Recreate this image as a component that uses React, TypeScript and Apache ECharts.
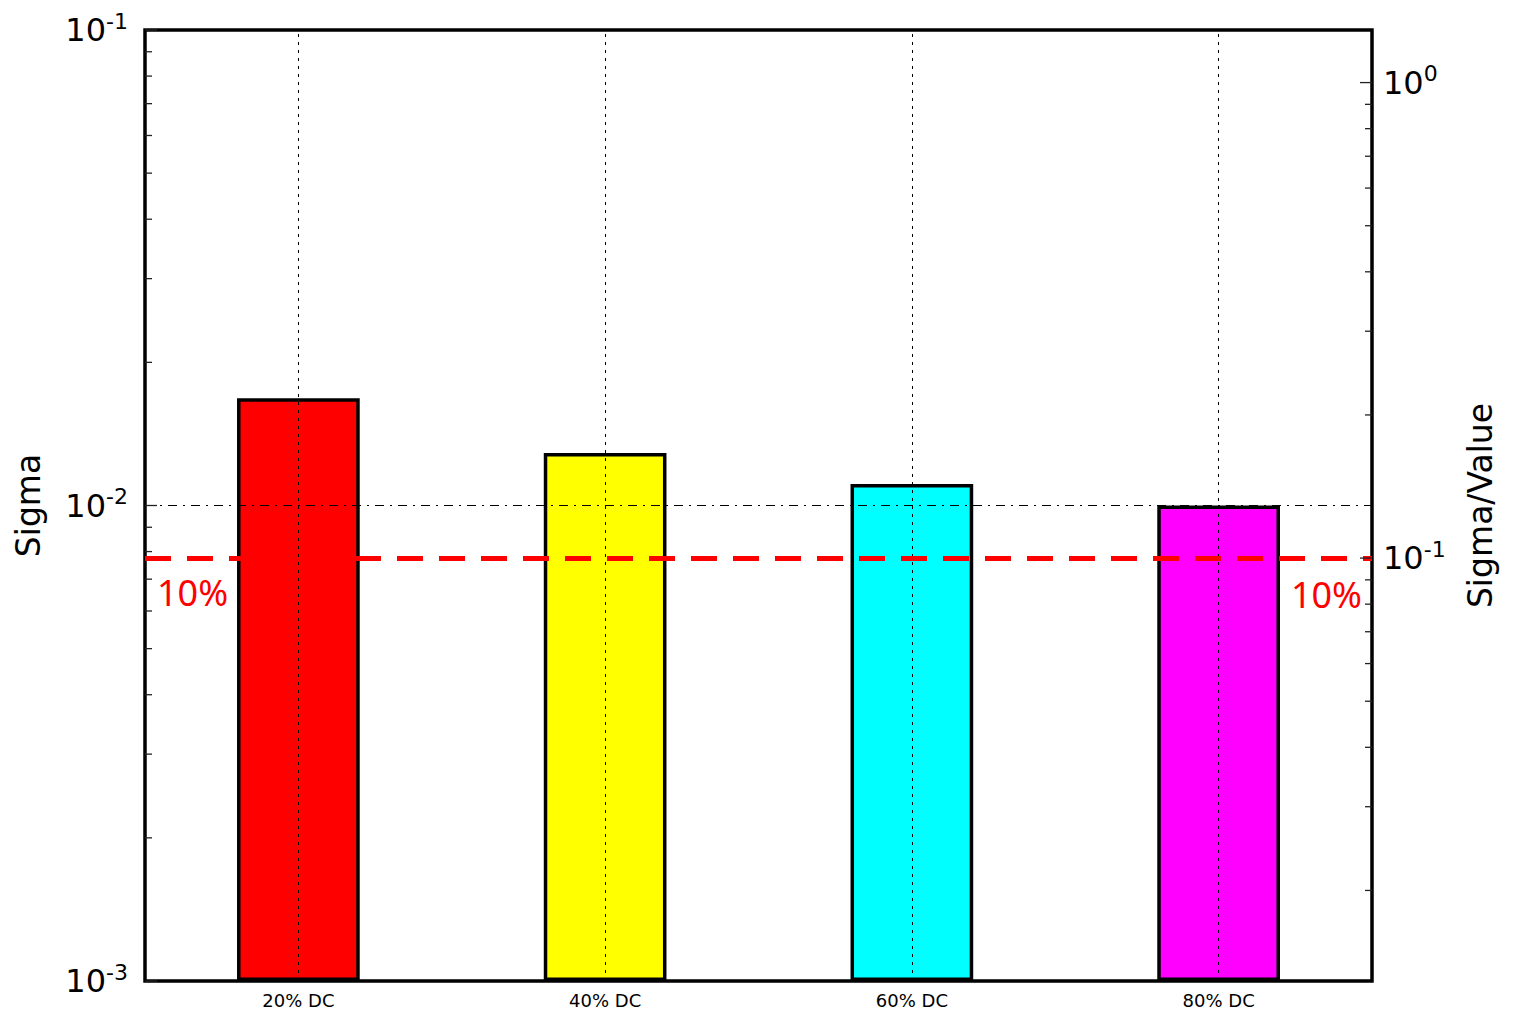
import React, { useEffect, useRef } from "react";
import * as echarts from "echarts";

// Duty-cycle categories and the measured sigma for each
const categories = ["20% DC", "40% DC", "60% DC", "80% DC"];
const sigmaValues = [0.0168, 0.0129, 0.0111, 0.01];
const barColors = ["#ff0000", "#ffff00", "#00ffff", "#ff00ff"];

// Axis ranges (left: sigma, right: sigma / value)
const sigmaRange = [0.001, 0.1];
const ratioRange = [0.0129, 1.29];

// Threshold on the sigma/value axis
const thresholdRatio = 0.1;
const thresholdLabel = "10%";

// Tick marks for both logarithmic axes (decades plus 2..9 minors)
const sigmaTicks = [
  0.001, 0.002, 0.003, 0.004, 0.005, 0.006, 0.007, 0.008, 0.009,
  0.01, 0.02, 0.03, 0.04, 0.05, 0.06, 0.07, 0.08, 0.09, 0.1,
];
const ratioTicks = [
  0.02, 0.03, 0.04, 0.05, 0.06, 0.07, 0.08, 0.09,
  0.1, 0.2, 0.3, 0.4, 0.5, 0.6, 0.7, 0.8, 0.9, 1,
];

const FONT = "DejaVu Sans";

const powerLabel = (v: number) => {
  const e = Math.log10(v);
  const r = Math.round(e);
  if (Math.abs(e - r) > 1e-6) return "";
  return `{b|10}{s|${r}}`;
};

const powerRich = {
  b: { fontSize: 32, fontFamily: FONT, color: "#000", lineHeight: 40 },
  s: { fontSize: 22, fontFamily: FONT, color: "#000", verticalAlign: "top" as const },
};

const tickRenderer =
  (side: "left" | "right") => (params: any, api: any) => {
    const v = api.value(1);
    const y = api.coord([0, v])[1];
    const cs = params.coordSys;
    const e = Math.log10(v);
    const major = Math.abs(e - Math.round(e)) < 1e-6;
    const len = major ? 12 : 7;
    const x0 = side === "left" ? cs.x : cs.x + cs.width;
    const x1 = side === "left" ? x0 + len : x0 - len;
    return {
      type: "line",
      shape: { x1: x0, y1: y, x2: x1, y2: y },
      style: { stroke: "#222", lineWidth: 1.3 },
    };
  };

export default function App() {
  const ref = useRef<HTMLDivElement>(null);

  useEffect(() => {
    if (!ref.current) return;
    const chart = echarts.init(ref.current, undefined, { renderer: "svg" });

    const option: any = {
      animation: false,
      backgroundColor: "#ffffff",
      grid: {
        left: 145,
        right: 150,
        top: 30,
        bottom: 30,
        show: true,
        borderColor: "#000",
        borderWidth: 3.5,
        backgroundColor: "transparent",
      },
      xAxis: {
        type: "category",
        data: categories,
        axisLine: { show: false },
        axisTick: { show: false },
        splitLine: { show: false },
        axisLabel: { fontSize: 18, fontFamily: FONT, color: "#000", margin: 10 },
      },
      yAxis: [
        {
          type: "log",
          logBase: 10,
          min: sigmaRange[0],
          max: sigmaRange[1],
          startValue: sigmaRange[0],
          position: "left",
          name: "Sigma",
          nameLocation: "middle",
          nameGap: 100,
          nameTextStyle: { fontSize: 33, fontFamily: FONT, color: "#000" },
          axisLine: { show: false },
          axisTick: { show: false },
          splitLine: { show: false },
          axisLabel: { formatter: powerLabel, rich: powerRich, margin: 17 },
        },
        {
          type: "log",
          logBase: 10,
          min: ratioRange[0],
          max: ratioRange[1],
          position: "right",
          name: "Sigma/Value",
          nameLocation: "middle",
          nameGap: 92,
          nameTextStyle: { fontSize: 33, fontFamily: FONT, color: "#000" },
          axisLine: { show: false },
          axisTick: { show: false },
          splitLine: { show: false },
          axisLabel: { formatter: powerLabel, rich: powerRich, margin: 11 },
        },
      ],
      series: [
        {
          type: "bar",
          yAxisIndex: 0,
          barWidth: "40%",
          data: sigmaValues.map((v, i) => ({
            value: v,
            itemStyle: { color: barColors[i] },
          })),
          itemStyle: { borderColor: "#000", borderWidth: 3.5 },
          markLine: {
            silent: true,
            symbol: "none",
            label: { show: false },
            lineStyle: { color: "#000", width: 1, type: [3, 5] },
            data: [
              ...categories.map((c) => ({ xAxis: c })),
              { yAxis: 0.01, lineStyle: { color: "#000", width: 1, type: [9, 6, 2, 6] } },
            ],
          },
        },
        {
          type: "line",
          yAxisIndex: 1,
          data: categories.map(() => null),
          symbol: "none",
          markLine: {
            silent: true,
            symbol: "none",
            lineStyle: { color: "#ff0000", width: 5, type: [26, 16] },
            label: {
              show: true,
              formatter: thresholdLabel,
              color: "#ff0000",
              fontSize: 36,
              fontFamily: "Noto Sans",
              distance: [12, 16],
            },
            data: [
              { yAxis: thresholdRatio, label: { position: "insideStartBottom" } },
              { yAxis: thresholdRatio, label: { position: "insideEndBottom", distance: [10, 18] } },
            ],
          },
        },
        {
          type: "custom",
          yAxisIndex: 0,
          clip: false,
          silent: true,
          data: sigmaTicks.map((v) => [0, v]),
          renderItem: tickRenderer("left"),
          z: 6,
        },
        {
          type: "custom",
          yAxisIndex: 1,
          clip: false,
          silent: true,
          data: ratioTicks.map((v) => [0, v]),
          renderItem: tickRenderer("right"),
          z: 6,
        },
      ],
    };

    chart.setOption(option);
    return () => chart.dispose();
  }, []);

  return (
    <div
      ref={ref}
      style={{ position: "fixed", left: 0, top: 0, width: 1522, height: 1011 }}
    />
  );
}
